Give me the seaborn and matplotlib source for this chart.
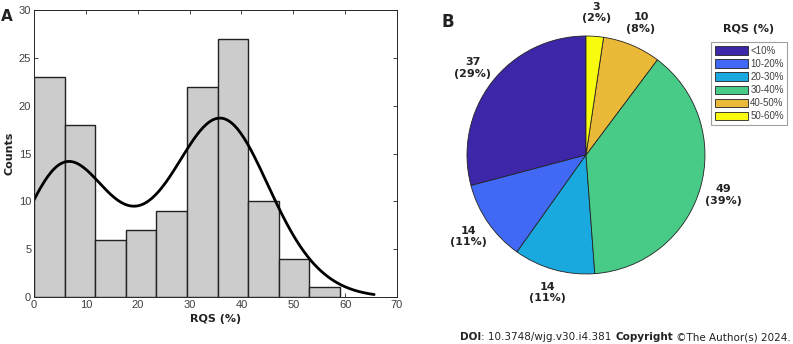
import numpy as np
import pandas as pd
import seaborn as sns
import matplotlib
matplotlib.use("Agg")
import matplotlib.pyplot as plt
from matplotlib.offsetbox import TextArea, HPacker, AnchoredOffsetbox

# ---------------- data ----------------
bin_width = 5.9
bin_edges = [0, 5.9, 11.8, 17.7, 23.6, 29.5, 35.4, 41.3, 47.2, 53.1, 59.0]
hist_counts = [23, 18, 6, 7, 9, 22, 27, 10, 4, 1]
curve_range = (0, 65.6)
kde_bw_adjust = 0.6

pie_categories = ["<10%", "10-20%", "20-30%", "30-40%", "40-50%", "50-60%"]
pie_counts = [37, 14, 14, 49, 10, 3]
pie_colors = ["#3E26A8", "#4169F5", "#1AA9DE", "#48CB86", "#EAB938", "#F9FB0E"]

x_ticks = [0, 10, 20, 30, 40, 50, 60, 70]
y_ticks = [0, 5, 10, 15, 20, 25, 30]

# ---------------- figure ----------------
sns.set_theme(style="white")
plt.rcParams["font.family"] = ["DejaVu Sans"]

fig = plt.figure(figsize=(7.93, 3.44), dpi=100)

# ---- panel A: histogram ----
axA = fig.add_axes([0.0429, 0.1366, 0.4577, 0.8343])
centers = [(bin_edges[i] + bin_edges[i + 1]) / 2 for i in range(len(hist_counts))]
df = pd.DataFrame({"RQS": centers, "n": hist_counts})
sns.histplot(data=df, x="RQS", weights="n", bins=bin_edges, kde=True,
             kde_kws={"clip": curve_range, "cut": 3, "bw_adjust": kde_bw_adjust},
             color="#CCCCCC", alpha=1, edgecolor="#222222", linewidth=1.0,
             ax=axA)
line = axA.lines[-1]
line.set_color("black")
line.set_linewidth(2)

axA.set_xlim(0, 70)
axA.set_ylim(0, 30)
axA.set_xticks(x_ticks)
axA.set_yticks(y_ticks)
tick_font = dict(family="Liberation Sans", size=8)
axA.set_xticklabels([str(t) for t in x_ticks], fontdict=tick_font, color="#404040")
axA.set_yticklabels([str(t) for t in y_ticks], fontdict=tick_font, color="#404040")
axA.tick_params(direction="in", length=3, width=0.6, color="#262626",
                top=True, right=True, bottom=True, left=True, pad=2)
for s in axA.spines.values():
    s.set_visible(True)
    s.set_color("#262626")
    s.set_linewidth(0.7)
axA.set_xlabel("RQS (%)", fontsize=8, fontweight="bold", color="#222222", labelpad=3)
axA.set_ylabel("Counts", fontsize=8, fontweight="bold", color="#222222", labelpad=3)

fig.text(0.001, 0.975, "A", fontsize=11, fontweight="bold", color="#222222",
         ha="left", va="top")

# ---- panel B: pie ----
axB = fig.add_axes([0.5889, 0.2035, 0.3001, 0.6919])
total = sum(pie_counts)
labels = [f"{c}\n({round(100 * c / total)}%)" for c in pie_counts]
wedges, texts = axB.pie(pie_counts, colors=pie_colors, startangle=90,
                        counterclock=True, labels=labels, labeldistance=1.2,
                        wedgeprops=dict(edgecolor="#222222", linewidth=0.6),
                        textprops=dict(fontsize=8, fontweight="bold", color="#222222"))
for t in texts:
    t.set_ha("center")
    t.set_va("center")
    t.set_multialignment("center")
axB.set_xlim(-1, 1)
axB.set_ylim(-1, 1)
axB.set_aspect("equal")
axB.axis("off")

fig.text(0.5649, 0.962, "B", fontsize=12, fontweight="bold", color="#222222",
         ha="center", va="top")

fig.text(0.944, 0.915, "RQS (%)", fontsize=8, fontweight="bold", color="#222222",
         ha="center", va="center")
leg = fig.legend(wedges, pie_categories, loc="upper left",
                 bbox_to_anchor=(0.897, 0.877), frameon=True, fancybox=False,
                 prop=dict(family="Liberation Sans", size=7),
                 handlelength=3.4, handleheight=0.95, labelspacing=0.32,
                 handletextpad=0.25, borderpad=0.35, borderaxespad=0)
leg.get_frame().set_edgecolor("#888888")
leg.get_frame().set_linewidth(0.8)
for txt in leg.get_texts():
    txt.set_color("#404040")

# ---- footer ----
parts = [("DOI", "bold"), (": 10.3748/wjg.v30.i4.381 ", "normal"),
         ("Copyright", "bold"), (" \u00a9The Author(s) 2024.", "normal")]
boxes = [TextArea(p, textprops=dict(fontsize=7.5, fontweight=w, color="#222222"))
         for p, w in parts]
pack = HPacker(children=boxes, align="baseline", pad=0, sep=0)
anch = AnchoredOffsetbox(loc="lower right", child=pack, pad=0, frameon=False,
                         bbox_to_anchor=(0.997, 0.005),
                         bbox_transform=fig.transFigure, borderpad=0)
fig.add_artist(anch)

fig.savefig("out.png", dpi=100)
